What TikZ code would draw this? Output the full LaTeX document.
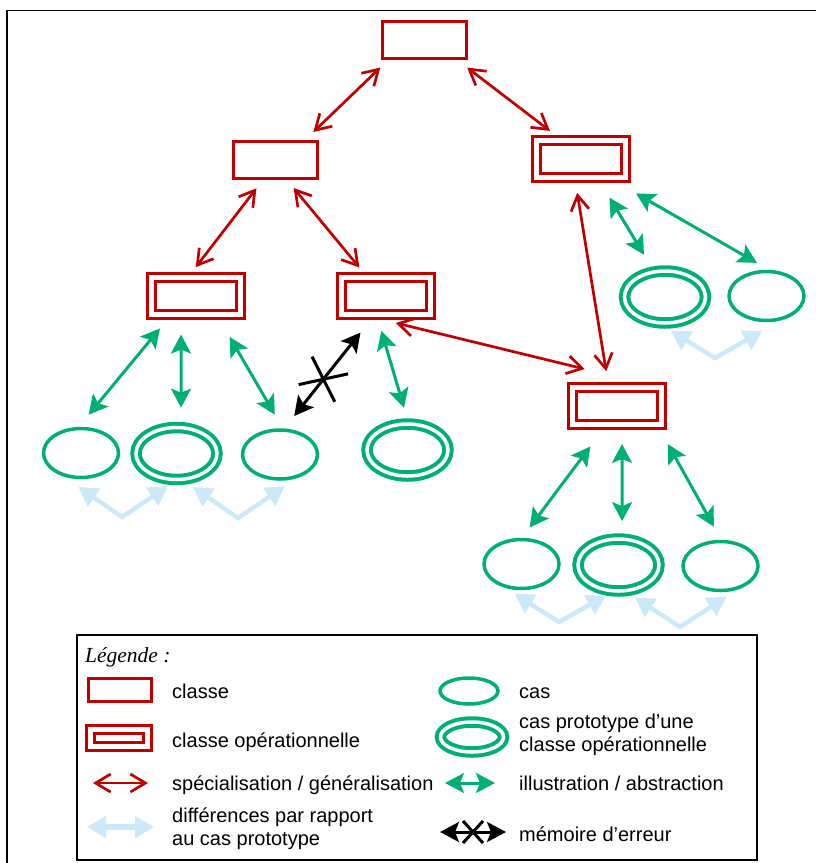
\documentclass[tikz,border=0pt]{standalone}
\usepackage{fontspec}
\setmainfont{Liberation Sans}
\newfontfamily\legfont{Liberation Serif}
\usepackage{tikz}
\usetikzlibrary{shapes.geometric, shapes.misc, arrows.meta, positioning}
\definecolor{clsred}{RGB}{192,0,0}
\definecolor{casgreen}{RGB}{0,176,114}
\definecolor{diffblue}{RGB}{204,233,252}
\tikzstyle{classeBox}=[draw=clsred, line width=3pt, minimum width=84pt, minimum height=37pt, inner sep=0pt, outer sep=0pt]
\tikzstyle{opClasse}=[classeBox, double=white, double distance=5pt, minimum width=89pt]
\tikzstyle{casEll}=[ellipse, draw=casgreen, line width=3.5pt, minimum width=75pt, minimum height=49pt, inner sep=0pt, outer sep=0pt]
\tikzstyle{protoEll}=[casEll, line width=4pt, double=white, double distance=3.5pt, minimum width=81pt, minimum height=52pt]
\tikzstyle{specArrow}=[{Straight Barb[length=15pt,width=18pt]}-{Straight Barb[length=15pt,width=18pt]}, line width=2.7pt, draw=clsred, shorten <=13pt, shorten >=13pt]
\tikzstyle{illusArrow}=[{Stealth[length=19pt,width=20pt,inset=4pt]}-{Stealth[length=19pt,width=20pt,inset=4pt]}, line width=3pt, draw=casgreen, shorten <=18pt, shorten >=18pt]
\tikzstyle{errArrow}=[illusArrow, draw=black]
\tikzstyle{diffArrow}=[{Triangle[length=19pt,width=21pt]}-{Triangle[length=19pt,width=21pt]}, line width=4.5pt, draw=diffblue]
\tikzstyle{xMark}=[cross out, draw=black, line width=3pt, inner sep=0pt, minimum width=28pt, minimum height=37pt]
\tikzstyle{legText}=[anchor=base west, inner sep=0pt, font=\fontsize{20}{23}\selectfont]

\begin{document}
\begin{tikzpicture}[x=1pt, y=-1pt]
  \useasboundingbox (0,0) rectangle (816,863);
  \draw[line width=1.3pt] (7,863) -- (7,10.5) -- (816,10.5);

  % classes
  \node[classeBox] (c0) at (424.5,40) {};
  \node[classeBox] (c1) at (275.5,159.5) {};
  \node[opClasse] (o1) at (581,158.5) {};
  \node[opClasse] (o2) at (196,296) {};
  \node[opClasse] (o3) at (385.5,296) {};
  \node[opClasse] (o4) at (617,405.5) {};

  % cas
  \node[casEll] (e1) at (81,453) {};
  \node[protoEll] (e2) at (176.5,453.5) {};
  \node[casEll] (e3) at (280,454.5) {};
  \node[protoEll] (e4) at (407.5,450) {};
  \node[protoEll] (e5) at (665,297) {};
  \node[casEll] (e6) at (766.5,296) {};
  \node[casEll] (e7) at (521.5,564) {};
  \node[protoEll] (e8) at (618.5,565) {};
  \node[casEll] (e9) at (720.5,566) {};

  % specialisation / generalisation
  \draw[specArrow] (c0.208) -- (c1.33);
  \draw[specArrow, shorten <=15pt, shorten >=15pt] (c0.329) -- (o1.136);
  \draw[specArrow] (c1.239) -- (o2.114);
  \draw[specArrow] (c1.298) -- (o3.134);
  \draw[specArrow, shorten <=36pt, shorten >=76pt] (o3.217) -- (o4.24);
  \draw[specArrow, shorten <=16pt, shorten >=16pt] (o1.251) -- (o4.114);

  % illustration / abstraction
  \draw[illusArrow] (o2.217) -- (e1.99);
  \draw[illusArrow, shorten <=20pt, shorten >=20pt] (o2.231) -- (e2.80);
  \draw[illusArrow, shorten <=26pt] (o2.318) -- (e3.81);
  \draw[illusArrow, shorten <=17pt, shorten >=17pt] (o3.244) -- (e4.87);
  \draw[illusArrow, shorten <=24pt, shorten >=20pt] (o1.311) -- (e5.113);
  \draw[illusArrow, shorten <=33pt] (o1.325) -- (e6.76);
  \draw[illusArrow, shorten <=28pt, shorten >=15pt] (o4.242) -- (e7.92);
  \draw[illusArrow, shorten <=20pt] (o4.285) -- (e8.82);
  \draw[illusArrow, shorten <=23pt, shorten >=17pt] (o4.335) -- (e9.86);

  % memoire d'erreur
  \draw[errArrow, shorten <=23pt] (o3.240) -- coordinate[pos=.56] (xc) (e3.83);
  \node[xMark, rotate=64.5] (x1) at (xc) {};

  % differences
  \coordinate (v1) at (122,517);
  \coordinate (v2) at (238,518);
  \coordinate (v3) at (715,358);
  \coordinate (v4) at (559,622);
  \coordinate (v5) at (680,627);
  \draw[diffArrow, shorten <=31pt, shorten >=12pt] (e1.210) -- (v1) -- (e2.273);
  \draw[diffArrow, shorten <=13.5pt, shorten >=22pt] (e2.282) -- (v2) -- (e3.320);
  \draw[diffArrow, shorten <=16pt, shorten >=33pt] (e5.253) -- (v3) -- (e6.323);
  \draw[diffArrow, shorten <=21pt, shorten >=9.5pt] (e7.217) -- (v4) -- (e8.261);
  \draw[diffArrow, shorten <=12.5pt, shorten >=24pt] (e8.283) -- (v5) -- (e9.326);

  % legende
  \draw[line width=1.3pt] (77,635) rectangle (757,860);
  \node[legText, font=\legfont\itshape\fontsize{21.5}{24}\selectfont] (legTitle) at (85,662) {Légende :};
  \node[classeBox, minimum width=63pt, minimum height=23pt] (lgClasse) at (120,690) {};
  \node[opClasse, minimum width=57pt, minimum height=17pt] (lgOp) at (119,738) {};
  \node[casEll, minimum width=58pt, minimum height=26pt] (lgCas) at (469,691) {};
  \node[protoEll, minimum width=63pt, minimum height=30pt] (lgProto) at (472,737) {};
  \coordinate (lgS1) at (93,783);   \coordinate (lgS2) at (148,783);
  \coordinate (lgD1) at (87,827);   \coordinate (lgD2) at (154,827);
  \coordinate (lgI1) at (445,783);  \coordinate (lgI2) at (495,783);
  \coordinate (lgE1) at (440,832);  \coordinate (lgE2) at (506,832);
  \draw[specArrow, shorten <=0pt, shorten >=0pt] (lgS1) -- (lgS2);
  \draw[diffArrow, line width=5.5pt] (lgD1) -- (lgD2);
  \draw[illusArrow, shorten <=0pt, shorten >=0pt] (lgI1) -- (lgI2);
  \draw[errArrow, shorten <=0pt, shorten >=0pt] (lgE1) -- node[xMark, minimum width=17pt, minimum height=19pt] (x2) {} (lgE2);

  \node[legText] (tClasse) at (172,698) {classe};
  \node[legText] (tOp) at (172,747) {classe opérationnelle};
  \node[legText] (tSpec) at (172,790) {spécialisation / généralisation};
  \node[legText, align=left, anchor=west] (tDiff) at (172,829) {différences par rapport\\au cas prototype};
  \node[legText] (tCas) at (519,698) {cas};
  \node[legText, align=left, anchor=west] (tProto) at (519,735) {cas prototype d’une\\classe opérationnelle};
  \node[legText] (tIllus) at (519,790) {illustration / abstraction};
  \node[legText] (tErr) at (519,841) {mémoire d’erreur};
\end{tikzpicture}
\end{document}
